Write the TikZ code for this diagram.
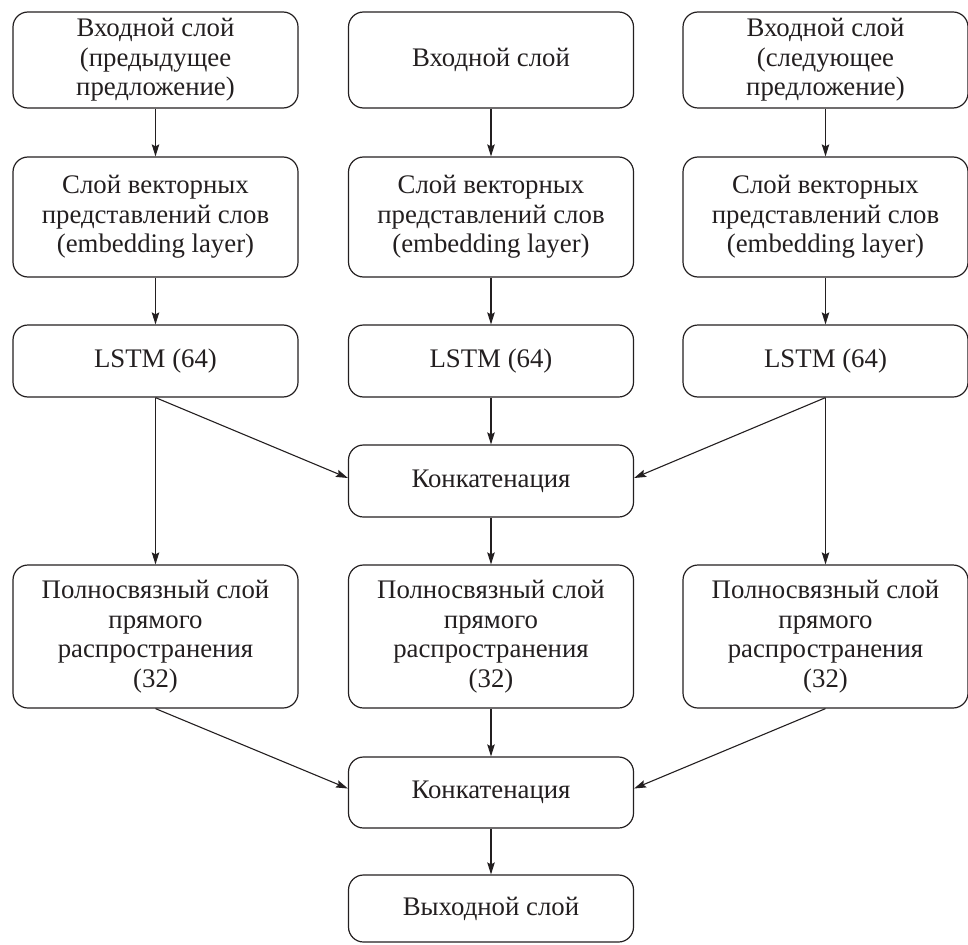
\documentclass[tikz,border=0pt]{standalone}
\usepackage{fontspec}
\setmainfont{Liberation Serif}
\usetikzlibrary{arrows.meta}
\definecolor{ink}{HTML}{231F20}
\tikzset{
  box/.style={draw=ink, line width=1.2pt, rounded corners=15pt, align=center,
    minimum width=285pt, inner sep=0pt, font=\fontsize{26.8}{29.5}\selectfont, text=ink},
  arr/.style={draw=ink, line width=1.1pt, -{Stealth[length=12pt,width=7.5pt,inset=2pt]}}
}
\begin{document}
\begin{tikzpicture}[x=1pt,y=-1pt]
\useasboundingbox (0,0) rectangle (968,944);
% row 1
\node[box, minimum height=96pt] (a1) at (155.5,60) {Входной слой\\(предыдущее\\предложение)};
\node[box, minimum height=96pt] (b1) at (491,60) {Входной слой};
\node[box, minimum height=96pt] (c1) at (825.5,60) {Входной слой\\(следующее\\предложение)};
% row 2
\node[box, minimum height=120pt] (a2) at (155.5,217) {Слой векторных\\представлений слов\\(embedding layer)};
\node[box, minimum height=120pt] (b2) at (491,217) {Слой векторных\\представлений слов\\(embedding layer)};
\node[box, minimum height=120pt] (c2) at (825.5,217) {Слой векторных\\представлений слов\\(embedding layer)};
% row 3
\node[box, minimum height=72pt] (a3) at (155.5,361) {LSTM (64)};
\node[box, minimum height=72pt] (b3) at (491,361) {LSTM (64)};
\node[box, minimum height=72pt] (c3) at (825.5,361) {LSTM (64)};
% concat 1
\node[box, minimum height=72pt] (k1) at (491,481) {Конкатенация};
% row 5
\node[box, minimum height=143pt] (a5) at (155.5,636.5) {Полносвязный слой\\прямого\\распространения\\(32)};
\node[box, minimum height=143pt] (b5) at (491,636.5) {Полносвязный слой\\прямого\\распространения\\(32)};
\node[box, minimum height=143pt] (c5) at (825.5,636.5) {Полносвязный слой\\прямого\\распространения\\(32)};
% concat 2
\node[box, minimum height=71pt] (k2) at (491,792.5) {Конкатенация};
% output
\node[box, minimum height=67pt] (o) at (491,908.5) {Выходной слой};
% arrows
\draw[arr] (a1) -- (a2);
\draw[arr] (b1) -- (b2);
\draw[arr] (c1) -- (c2);
\draw[arr] (a2) -- (a3);
\draw[arr] (b2) -- (b3);
\draw[arr] (c2) -- (c3);
\draw[arr] (b3) -- (k1);
\draw[arr] (a3.south) -- ([yshift=3pt]k1.west);
\draw[arr] (c3.south) -- ([yshift=3pt]k1.east);
\draw[arr] (a3) -- (a5);
\draw[arr] (c3) -- (c5);
\draw[arr] (k1) -- (b5);
\draw[arr] (b5) -- (k2);
\draw[arr] (a5.south) -- ([yshift=4pt]k2.west);
\draw[arr] (c5.south) -- ([yshift=4pt]k2.east);
\draw[arr] (k2) -- (o);
\end{tikzpicture}
\end{document}
